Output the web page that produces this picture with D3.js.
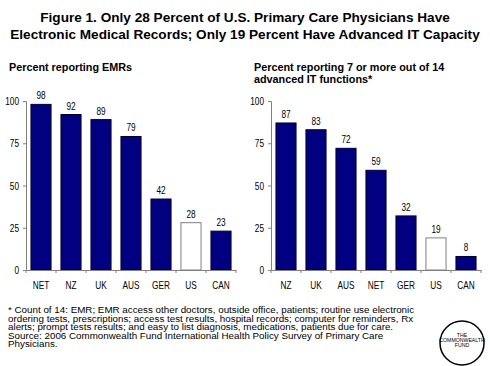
<!DOCTYPE html>
<html><head><meta charset="utf-8">
<script src="https://cdn.jsdelivr.net/npm/d3@7"></script>
<style>body{margin:0;background:#fff}svg{display:block}</style>
</head><body>
<script>
const emrCategories = ["NET","NZ","UK","AUS","GER","US","CAN"];
const emrValues = [98,92,89,79,42,28,23];
const itCategories = ["NZ","UK","AUS","NET","GER","US","CAN"];
const itValues = [87,83,72,59,32,19,8];
const yTicks = [0,25,50,75,100];
const titleLines = ["Figure 1. Only 28 Percent of U.S. Primary Care Physicians Have",
  "Electronic Medical Records; Only 19 Percent Have Advanced IT Capacity"];
const footLines = ["* Count of 14: EMR; EMR access other doctors, outside office, patients; routine use electronic",
  "ordering  tests, prescriptions; access test results, hospital records; computer for reminders, Rx",
  "alerts; prompt tests results; and easy to list diagnosis, medications, patients due for care.",
  "Source: 2006 Commonwealth Fund International Health Policy Survey of Primary Care",
  "Physicians."];
const highlight = "US";

const W=490,H=366;
const svg=d3.select("body").append("svg").attr("width",W).attr("height",H);
const F="Arial, 'Liberation Sans', sans-serif";

function narrow(sel,f){
  sel.each(function(){
    const w=this.getComputedTextLength();
    d3.select(this).attr("textLength",w*f).attr("lengthAdjust","spacingAndGlyphs");
  });
}

svg.selectAll("text.title").data(titleLines).join("text")
  .attr("x",245).attr("y",(d,i)=>22+i*17).attr("text-anchor","middle")
  .attr("font-family",F).attr("font-weight","bold").attr("font-size",13.6).text(d=>d);

function chart(cats,vals,x0,subtitle){
  const x=d3.scaleBand().domain(cats).range([x0,x0+210]).paddingInner(0.33).paddingOuter(0.165);
  const y=d3.scaleLinear().domain([0,100]).range([270,101]);
  const g=svg.append("g");
  subtitle.forEach((s,i)=>g.append("text").attr("x",x0-17).attr("y",71+i*12)
    .attr("font-family",F).attr("font-weight","bold").attr("font-size",10.8).text(s));
  const yA=g.append("g").attr("transform",`translate(${x0},0)`)
    .call(d3.axisLeft(y).tickValues(yTicks).tickSize(3).tickPadding(4));
  yA.selectAll("text").attr("font-family",F).attr("font-size",11).attr("fill","#000").call(narrow,0.75);
  yA.selectAll("line,path").attr("stroke","#808080");
  g.selectAll("rect").data(cats).join("rect")
    .attr("x",d=>x(d)).attr("width",x.bandwidth())
    .attr("y",(d,i)=>y(vals[i])).attr("height",(d,i)=>y(0)-y(vals[i]))
    .attr("fill",d=>d===highlight?"#fff":"#000080")
    .attr("stroke",d=>d===highlight?"#808080":"#000033").attr("stroke-width",1);
  g.selectAll("text.val").data(cats).join("text").attr("class","val")
    .attr("x",d=>x(d)+x.bandwidth()/2).attr("y",(d,i)=>y(vals[i])-5)
    .attr("text-anchor","middle").attr("font-family",F).attr("font-size",11).text((d,i)=>vals[i])
    .call(narrow,0.75);
  const step=x.step();
  const xA=g.append("g").attr("transform","translate(0,270)")
    .call(d3.axisBottom(x).tickSize(0).tickPadding(11));
  xA.selectAll("text").attr("font-family",F).attr("font-size",11).attr("fill","#000").call(narrow,0.75);
  xA.select("path").attr("stroke","#808080");
  g.selectAll("line.xt").data(d3.range(cats.length+1)).join("line")
    .attr("x1",i=>x0+i*step).attr("x2",i=>x0+i*step).attr("y1",270).attr("y2",273)
    .attr("stroke","#808080");
}
chart(emrCategories,emrValues,26,["Percent reporting EMRs"]);
chart(itCategories,itValues,271,["Percent reporting 7 or more out of 14","advanced IT functions*"]);

svg.selectAll("text.foot").data(footLines).join("text")
  .attr("x",8).attr("y",(d,i)=>313+i*8.5)
  .attr("font-family",F).attr("font-size",8.4).text(d=>d)
  .call(narrow,1.17);

const lg=svg.append("g");
lg.append("circle").attr("cx",462).attr("cy",343).attr("r",22).attr("fill","#fff").attr("stroke","#000").attr("stroke-width",1.5);
["THE","COMMONWEALTH","FUND"].forEach((t,i)=>lg.append("text").attr("x",462).attr("y",337+i*4.8)
  .attr("text-anchor","middle").attr("font-family",F).attr("font-size",5.2).text(t));
</script>
</body></html>
